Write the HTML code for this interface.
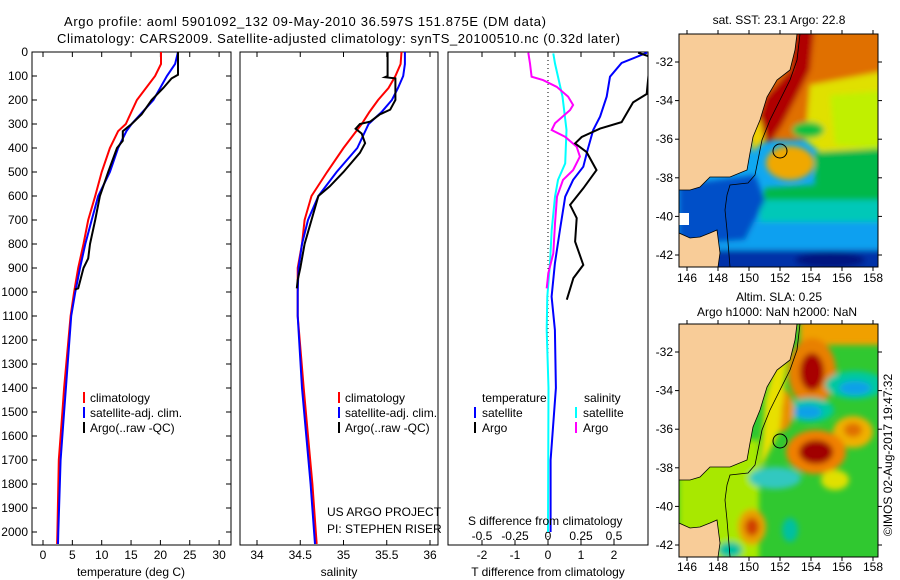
<!DOCTYPE html>
<html><head><meta charset="utf-8"><style>
html,body{margin:0;padding:0;background:#fff;}
svg{display:block;font-family:"Liberation Sans",sans-serif;}
text{font-size:12px;fill:#000;}
</style></head><body>
<svg id="fig" width="900" height="580" viewBox="0 0 900 580" xmlns="http://www.w3.org/2000/svg">
<defs>
<filter id="blur" x="-10%" y="-10%" width="120%" height="120%"><feGaussianBlur stdDeviation="3"/></filter>
<clipPath id="clipTop"><rect x="679" y="34" width="199" height="233"/></clipPath>
<clipPath id="clipBot"><rect x="679" y="324" width="199" height="233"/></clipPath>
<clipPath id="clipP1"><rect x="32" y="52" width="199" height="493"/></clipPath>
<clipPath id="clipP2"><rect x="240" y="52" width="198" height="493"/></clipPath>
<clipPath id="clipP3"><rect x="448" y="52" width="200" height="493"/></clipPath>
</defs>
<text x="64" y="26" style="font-size:13px" textLength="482">Argo profile: aoml 5901092_132 09-May-2010 36.597S 151.875E (DM data)</text>
<text x="57" y="43" style="font-size:13px" textLength="563">Climatology: CARS2009. Satellite-adjusted climatology: synTS_20100510.nc (0.32d later)</text>

<g id="axes"></g>
<g id="series"></g>

<g>
<rect x="83" y="392" width="2" height="11" fill="#f00"/><text x="90" y="402">climatology</text>
<rect x="83" y="407" width="2" height="11" fill="#00f"/><text x="90" y="417">satellite-adj. clim.</text>
<rect x="83" y="422" width="2" height="11" fill="#000"/><text x="90" y="432">Argo(..raw -QC)</text>
</g>
<g>
<rect x="338" y="392" width="2" height="11" fill="#f00"/><text x="345" y="402">climatology</text>
<rect x="338" y="407" width="2" height="11" fill="#00f"/><text x="345" y="417">satellite-adj. clim.</text>
<rect x="338" y="422" width="2" height="11" fill="#000"/><text x="345" y="432">Argo(..raw -QC)</text>
</g>
<g>
<text x="482" y="402">temperature</text><text x="584" y="402">salinity</text>
<rect x="474" y="407" width="2" height="11" fill="#00f"/><text x="482" y="417">satellite</text>
<rect x="474" y="422" width="2" height="11" fill="#000"/><text x="482" y="432">Argo</text>
<rect x="575" y="407" width="2" height="11" fill="#0ff"/><text x="583" y="417">satellite</text>
<rect x="575" y="422" width="2" height="11" fill="#f0f"/><text x="583" y="432">Argo</text>
</g>
<text x="327" y="516">US ARGO PROJECT</text>
<text x="327" y="533">PI: STEPHEN RISER</text>
<text x="468" y="525">S difference from climatology</text>

<text x="131" y="576" text-anchor="middle">temperature (deg C)</text>
<text x="339" y="576" text-anchor="middle">salinity</text>
<text x="548" y="576" text-anchor="middle">T difference from climatology</text>

<text x="779" y="24" text-anchor="middle">sat. SST: 23.1 Argo: 22.8</text>
<g clip-path="url(#clipTop)">
<rect x="679" y="34" width="199" height="233" fill="#10a8f0"/>
<g filter="url(#blur)">
<rect x="679" y="20" width="210" height="120" fill="#e07000"/>
<polygon points="810,85 890,70 890,160 830,160 805,140" fill="#e0e000"/>
<polygon points="830,95 890,90 890,150 835,145" fill="#c0f000"/>
<ellipse cx="808" cy="130" rx="16" ry="8" fill="#10c040"/>
<ellipse cx="790" cy="163" rx="24" ry="17" fill="#f0a800"/>
<polygon points="815,152 890,148 890,205 760,205 765,188 815,185" fill="#00b848"/>
<rect x="760" y="200" width="130" height="22" fill="#00c8b8"/>
<rect x="679" y="222" width="210" height="28" fill="#10a0f0"/>
<rect x="679" y="250" width="210" height="25" fill="#0030a8"/>
<ellipse cx="830" cy="260" rx="35" ry="8" fill="#001880"/>
<polygon points="679,185 755,175 765,200 745,240 679,245" fill="#0050c8"/>
<polygon points="797,20 815,20 810,70 795,100 782,125 772,140 757,145 752,140 765,97 790,70" fill="#b00000"/>
<polygon points="750,130 760,118 765,140 752,152" fill="#f0d000"/>
</g>
<polygon points="679,34 797,34 795,50 790,70 777,80 767,97 760,120 753,137 750,153 747,170 730,177 710,177 700,187 690,190 679,190" fill="#f8cc98" stroke="#000" stroke-width="0.8"/>
<polygon points="679,233 690,238 700,237 710,233 717,230 720,253 718,267 679,267" fill="#f8cc98" stroke="#000" stroke-width="0.8"/>
<rect x="679" y="213" width="10" height="12" fill="#fff"/>
<polyline points="800,34 797,60 790,80 780,100 770,120 762,140 758,160 755,175 748,183 730,185 727,195 725,210 727,230 730,267" fill="none" stroke="#000" stroke-width="0.8"/>
<circle cx="780" cy="151" r="7" fill="none" stroke="#000" stroke-width="1"/>
</g>
<rect x="679" y="34" width="199" height="233" fill="none" stroke="#000"/>

<text x="779" y="301" text-anchor="middle">Altim. SLA: 0.25</text>
<text x="777" y="316" text-anchor="middle">Argo h1000: NaN h2000: NaN</text>
<g clip-path="url(#clipBot)">
<rect x="679" y="324" width="199" height="233" fill="#30c830"/>
<g filter="url(#blur)">
<rect x="679" y="440" width="80" height="120" fill="#a8e800"/>
<rect x="800" y="320" width="90" height="25" fill="#f0a000"/>
<ellipse cx="812" cy="372" rx="24" ry="34" fill="#e88000"/>
<ellipse cx="812" cy="372" rx="12" ry="19" fill="#a80000"/>
<ellipse cx="855" cy="385" rx="30" ry="14" fill="#00c8a0"/>
<ellipse cx="855" cy="388" rx="16" ry="7" fill="#10a0e8"/>
<ellipse cx="810" cy="410" rx="24" ry="12" fill="#00c8a0"/>
<ellipse cx="808" cy="412" rx="14" ry="7" fill="#10a0e8"/>
<ellipse cx="780" cy="410" rx="14" ry="22" fill="#e89000"/>
<ellipse cx="777" cy="407" rx="6" ry="9" fill="#c04000"/>
<ellipse cx="853" cy="432" rx="20" ry="16" fill="#f0b000"/>
<ellipse cx="853" cy="430" rx="9" ry="7" fill="#e07000"/>
<ellipse cx="816" cy="452" rx="30" ry="22" fill="#f08000"/>
<ellipse cx="816" cy="452" rx="17" ry="12" fill="#a00000"/>
<ellipse cx="775" cy="478" rx="26" ry="11" fill="#30c8c0"/>
<ellipse cx="835" cy="480" rx="14" ry="10" fill="#e0e000"/>
<ellipse cx="752" cy="527" rx="14" ry="18" fill="#e8a000"/>
<ellipse cx="752" cy="527" rx="7" ry="9" fill="#d04000"/>
<ellipse cx="790" cy="530" rx="8" ry="12" fill="#00c0a0"/>
<ellipse cx="730" cy="550" rx="12" ry="8" fill="#00c0a0"/>
<polygon points="765,400 780,340 790,330 780,430 760,470" fill="#e8e000"/>
</g>
<polygon points="679,324 797,324 795,340 790,360 777,370 767,387 760,410 753,427 750,443 747,460 730,467 710,467 700,477 690,480 679,480" fill="#f8cc98" stroke="#000" stroke-width="0.8"/>
<polygon points="679,523 690,528 700,527 710,523 717,520 720,543 718,557 679,557" fill="#f8cc98" stroke="#000" stroke-width="0.8"/>
<polyline points="800,324 797,350 790,370 780,390 770,410 762,430 758,450 755,465 748,473 730,475 727,485 725,500 727,520 730,557" fill="none" stroke="#000" stroke-width="0.8"/>
<circle cx="780" cy="441" r="7" fill="none" stroke="#000" stroke-width="1"/>
</g>
<rect x="679" y="324" width="199" height="233" fill="none" stroke="#000"/>
<text transform="translate(892,455) rotate(-90)" text-anchor="middle">©IMOS 02-Aug-2017 19:47:32</text>
<g id="mapaxes"></g>
</svg>
<script>
const tempDepth = [0,50,100,200,300,330,400,500,600,700,800,900,1000,1100,1400,1500,1700,2000,2050];
const tempClim  = [20.1,20.1,19.1,16.0,14.1,12.8,11.4,10.0,8.9,7.7,6.9,6.0,5.3,4.7,3.6,3.3,2.7,2.45,2.4];
const tempSat   = [23.0,22.5,21.1,18.8,15.1,14.2,12.8,11.4,9.4,8.3,7.2,6.3,5.5,4.8,3.9,3.6,3.0,2.6,2.55];
const argoDepth = [0,95,110,150,200,260,300,330,370,400,500,600,700,800,860,900,985,990];
const argoTemp  = [23.0,23.0,21.9,20.5,18.5,16.8,15.1,13.6,13.6,12.6,11.1,9.7,8.9,8.0,7.7,6.9,6.0,5.4];
const salDepth  = [0,50,100,150,200,250,300,400,500,600,700,800,900,1000,1100,1400,1600,1800,2000,2050];
const salClim   = [35.67,35.66,35.60,35.52,35.40,35.30,35.21,35.0,34.81,34.63,34.55,34.52,34.47,34.47,34.47,34.54,34.59,34.64,34.68,34.69];
const salSat    = [35.71,35.71,35.69,35.63,35.56,35.44,35.29,35.16,34.92,34.71,34.59,34.52,34.48,34.47,34.47,34.52,34.57,34.62,34.66,34.67];
const argoSalDepth = [0,100,105,110,150,200,240,260,290,300,320,340,380,420,500,560,600,700,800,900,950,985];
const argoSal   = [35.51,35.51,35.48,35.60,35.60,35.60,35.54,35.42,35.31,35.19,35.14,35.21,35.25,35.19,35.0,34.84,34.71,34.63,34.55,34.5,34.47,34.46];
const tdSatDepth = [3,46,103,186,269,325,408,478,533,603,742,881,1019,1158,1400,1700,2000];
const tdSat      = [3.0,2.23,1.88,1.78,1.58,1.37,1.2,1.07,0.76,0.52,0.36,0.21,0.11,0.21,0.24,0.08,0.08];
const tdArgoDepth = [3,20,175,210,292,319,354,381,417,492,568,637,692,790,887,942,1032];
const tdArgo      = [2.73,3.1,2.99,2.58,2.23,1.58,1.02,0.82,1.17,1.47,1.07,0.67,0.87,0.82,1.07,0.77,0.57];
const sdSatDepth = [6,48,186,325,464,533,603,742,881,1019,1158,1400,2000];
const sdSat      = [0.04,0.053,0.11,0.14,0.13,0.076,0.053,0.028,0.015,-0.005,-0.01,0.004,0.0];
const sdArgoDepth = [3,48,103,117,145,186,221,242,297,325,353,394,436,492,533,603,714,839,922,985];
const sdArgo      = [-0.149,-0.136,-0.124,-0.038,0.066,0.152,0.19,0.167,0.053,0.028,0.129,0.217,0.242,0.19,0.114,0.068,0.053,0.04,0.002,-0.01];
const depthTicks = [0,100,200,300,400,500,600,700,800,900,1000,1100,1200,1300,1400,1500,1600,1700,1800,1900,2000];
const tempTicks = [0,5,10,15,20,25,30];
const salTicks = [34,34.5,35,35.5,36];
const salTickLabels = ["34","34.5","35","35.5","36"];
const tdTicks = [-2,-1,0,1,2];
const sdTicks = [-0.5,-0.25,0,0.25,0.5];
const sdTickLabels = ["-0.5","-0.25","0","0.25","0.5"];
const lonTicks = [146,148,150,152,154,156,158];
const latTicks = [-32,-34,-36,-38,-40,-42];

const yD = d => 52 + d*0.24;
const xT = t => 43 + t*5.87;
const xS = s => 257 + (s-34)*86.5;
const xTD = t => 548 + t*33;
const xSD = s => 548 + s*132;
const xLon = l => 687 + (l-146)*15.5;
const yLatTop = l => 62 + (-32 - l)*19.3;
const yLatBot = l => 352 + (-32 - l)*19.3;

const NS = "http://www.w3.org/2000/svg";
function mk(tag, attrs, parent){ const e=document.createElementNS(NS,tag); for(const k in attrs) e.setAttribute(k,attrs[k]); parent.appendChild(e); return e; }
const axes = document.getElementById('axes');
const series = document.getElementById('series');

const panels = [
  {x:32,w:199,name:'temperature-panel',ticks:tempTicks,labels:tempTicks.map(String),sc:xT},
  {x:240,w:198,name:'salinity-panel',ticks:salTicks,labels:salTickLabels,sc:xS},
  {x:448,w:200,name:'difference-panel',ticks:tdTicks,labels:tdTicks.map(String),sc:xTD}
];
panels.forEach((p,i)=>{
  const r = mk('rect',{x:p.x,y:52,width:p.w,height:493,fill:'none',stroke:'#000','stroke-width':1},axes);
  
  
  p.ticks.forEach((t,j)=>{
    const x = p.sc(t);
    mk('line',{x1:x,y1:52,x2:x,y2:57,stroke:'#000'},axes);
    mk('line',{x1:x,y1:545,x2:x,y2:540,stroke:'#000'},axes);
    const tx = mk('text',{x:x,y:559,'text-anchor':'middle'},axes);
    tx.textContent = p.labels[j];
    
    
  });
  if(i===0){
    depthTicks.forEach(d=>{
      const y=yD(d);
      mk('line',{x1:32,y1:y,x2:37,y2:y,stroke:'#000'},axes);
      mk('line',{x1:231,y1:y,x2:226,y2:y,stroke:'#000'},axes);
      const tx = mk('text',{x:28,y:y+4,'text-anchor':'end'},axes);
      tx.textContent = String(d);
      
      
    });
  }
});
sdTicks.forEach((s,j)=>{
  const tx = mk('text',{x:xSD(s),y:540,'text-anchor':'middle'},axes);
  tx.textContent = sdTickLabels[j];
  
  
});
const zl = mk('line',{x1:548,y1:52,x2:548,y2:545,stroke:'#000','stroke-dasharray':'1,3'},axes);



function line(xs, ds, sx, color, name, clip){
  const pts = xs.map((v,i)=>sx(v).toFixed(1)+','+yD(ds[i]).toFixed(1)).join(' ');
  const pl = mk('polyline',{points:pts,fill:'none',stroke:color,'stroke-width':2,'clip-path':'url(#'+clip+')'},series);
  
  
}
line(tempClim,tempDepth,xT,'#f00','temp-climatology-line','clipP1');
line(tempSat,tempDepth,xT,'#00f','temp-satellite-line','clipP1');
line(argoTemp,argoDepth,xT,'#000','temp-argo-line','clipP1');
line(salClim,salDepth,xS,'#f00','sal-climatology-line','clipP2');
line(salSat,salDepth,xS,'#00f','sal-satellite-line','clipP2');
line(argoSal,argoSalDepth,xS,'#000','sal-argo-line','clipP2');
line(sdSat,sdSatDepth,xSD,'#0ff','s-diff-satellite-line','clipP3');
line(sdArgo,sdArgoDepth,xSD,'#f0f','s-diff-argo-line','clipP3');
line(tdSat,tdSatDepth,xTD,'#00f','t-diff-satellite-line','clipP3');
line(tdArgo,tdArgoDepth,xTD,'#000','t-diff-argo-line','clipP3');

const ma = document.getElementById('mapaxes');
[[yLatTop,34,267,282],[yLatBot,324,557,571]].forEach(([yl,top,bot,ly])=>{
  lonTicks.forEach(l=>{
    const x=xLon(l);
    mk('line',{x1:x,y1:top,x2:x,y2:top-4,stroke:'#000'},ma);
    mk('line',{x1:x,y1:bot,x2:x,y2:bot+4,stroke:'#000'},ma);
    const t=mk('text',{x:x,y:ly,'text-anchor':'middle'},ma);
    t.textContent=String(l);
    
    
  });
  latTicks.forEach(l=>{
    const y=yl(l);
    mk('line',{x1:679,y1:y,x2:675,y2:y,stroke:'#000'},ma);
    mk('line',{x1:878,y1:y,x2:882,y2:y,stroke:'#000'},ma);
    const t=mk('text',{x:673,y:y+4,'text-anchor':'end'},ma);
    t.textContent=String(l);
    
    
  });
});
</script>
</body></html>
